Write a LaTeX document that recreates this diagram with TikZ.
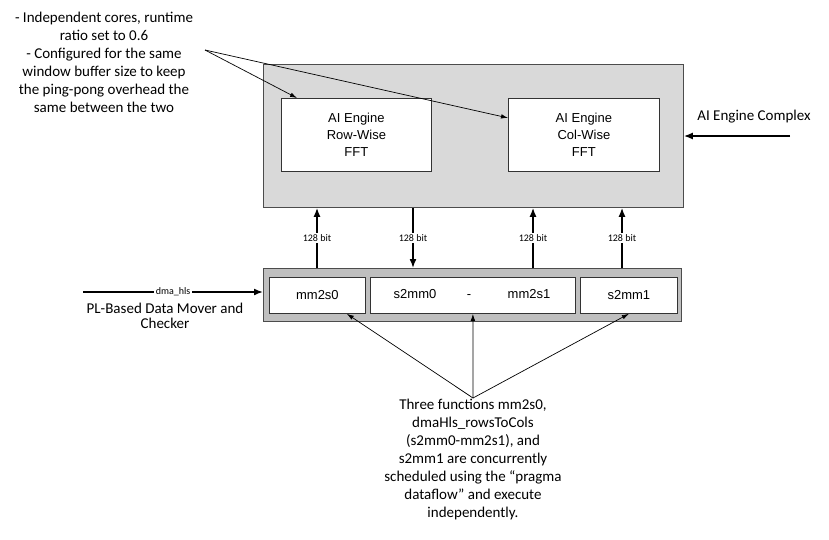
\documentclass[tikz,border=0pt]{standalone}
\usepackage{fontspec}
\setmainfont{Carlito}
\newfontfamily\arialfont{Liberation Sans}
\usetikzlibrary{arrows.meta}

\begin{document}
\begin{tikzpicture}[x=1pt, y=-1pt, >=latex, inner sep=0pt,
	every node/.style={font=\fontsize{15}{18}\selectfont, align=center},
	complex/.style={draw=black!70, line width=0.8pt, anchor=north west},
	block/.style={draw=black!80, fill=white, line width=0.8pt, anchor=north west, font=\arialfont\fontsize{13}{17}\selectfont},
	fn/.style={font=\arialfont\fontsize{13}{17}\selectfont, text height=9.5pt, text depth=2.5pt},
	bus/.style={line width=1.6pt, -{Latex[length=9pt,width=7pt]}},
	note/.style={line width=0.7pt, -{Latex[length=7pt,width=4.5pt]}},
	buslabel/.style={fill=white, inner sep=1.5pt, font=\fontsize{10}{12}\selectfont}]
			\useasboundingbox (0,0) rectangle (829,539);
			
			% AI Engine complex
			\node[complex, fill=black!15, minimum width=420, minimum height=143] (aie) at (263,64) {};
			\node[block, minimum width=150, minimum height=73] (row) at (281,98) {AI Engine\\Row-Wise\\FFT};
			\node[block, minimum width=151, minimum height=73] (col) at (508,98) {AI Engine\\Col-Wise\\FFT};
			
			% PL data mover
			\node[complex, fill=black!25, minimum width=418, minimum height=53] (pl) at (263,268) {};
			\node[block, minimum width=96, minimum height=36] (mm2s0) at (269,277) {mm2s0};
			\node[block, minimum width=205, minimum height=36] (mid) at (370,277) {};
			\node[block, minimum width=97, minimum height=36] (s2mm1) at (580,277) {s2mm1};
			\node[fn] (s2mm0) at (415,295) {s2mm0};
			\node[fn] (dash) at (469,295) {-};
			\node[fn] (mm2s1) at (529,295) {mm2s1};
			
			% streams
			\coordinate (p1) at (317,0);
			\coordinate (p2) at (413,0);
			\coordinate (p3) at (533,0);
			\coordinate (p4) at (622,0);
			\draw[bus] (pl.north -| p1) -- node[buslabel] {128 bit} (aie.south -| p1);
			\draw[bus] (aie.south -| p2) -- node[buslabel] {128 bit} (pl.north -| p2);
			\draw[bus] (pl.north -| p3) -- node[buslabel] {128 bit} (aie.south -| p3);
			\draw[bus] (pl.north -| p4) -- node[buslabel] {128 bit} (aie.south -| p4);
			
			% inputs
			\coordinate (dmain) at (83,292);
			\draw[bus] (dmain) -- node[buslabel, font=\fontsize{10}{11}\selectfont] {dma\_hls} (dmain -| pl.west);
			\node[font=\fontsize{15}{15}\selectfont] (plnote) at (165,316) {PL-Based Data Mover and\\Checker};
			
			\node (aienote) at (754,117) {AI Engine Complex};
			\coordinate (aiein) at (790,136);
			\draw[bus] (aiein) -- (aiein -| aie.east);
			
			% notes
			\node (cfgnote) at (104,62.5) {- Independent cores, runtime\\ratio set to 0.6\\- Configured for the same\\window buffer size to keep\\the ping-pong overhead the\\same between the two};
			\coordinate (cfgtip) at (205,50);
			\draw[note] (cfgtip) -- ([xshift=16pt]row.north west);
			\draw[note] (cfgtip) -- ([yshift=17pt]col.west);
			
			\node (fnnote) at (473,459.5) {Three functions mm2s0,\\dmaHls\_rowsToCols\\(s2mm0-mm2s1), and\\s2mm1 are concurrently\\scheduled using the “pragma\\dataflow” and execute\\independently.};
			\coordinate (fntip) at (473,398);
			\draw[note] (fntip) -- ([xshift=-19pt]mm2s0.south east);
			\draw[note] (fntip) -- (mid.south);
			\draw[note] (fntip) -- (s2mm1.south);
\end{tikzpicture}
\end{document}
